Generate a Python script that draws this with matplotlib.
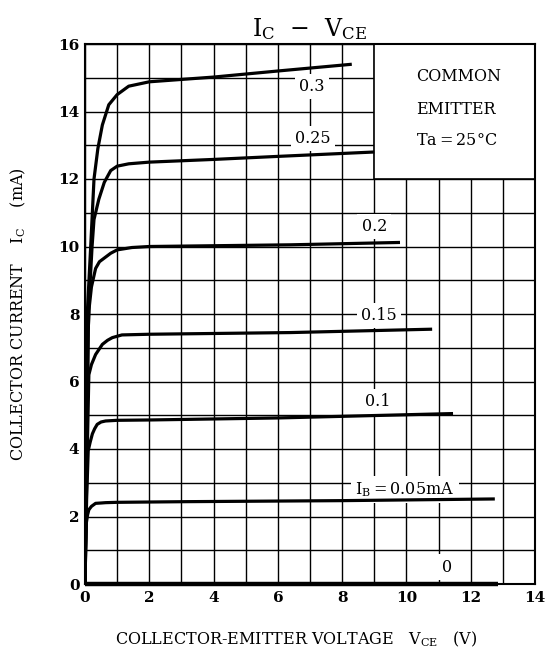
import matplotlib
matplotlib.use("Agg")
import matplotlib.pyplot as plt
from matplotlib.patches import Rectangle

plt.rcParams['font.family'] = ['DejaVu Serif']
plt.rcParams['mathtext.fontset'] = 'dejavuserif'

# curves, IB in mA
vce_030 = [0, 0.04, 0.07, 0.18, 0.28, 0.4, 0.54, 0.74, 1.0, 1.36, 2.0, 3.0, 4.0, 6.0, 8.3]
ic_030 = [0, 4.0, 8.0, 10.05, 12.0, 12.9, 13.6, 14.2, 14.5, 14.75, 14.88, 14.95, 15.02, 15.2, 15.4]

vce_025 = [0, 0.05, 0.1, 0.14, 0.22, 0.28, 0.43, 0.6, 0.8, 1.0, 1.36, 2.0, 4.0, 6.0, 9.0]
ic_025 = [0, 4.0, 7.5, 8.6, 10.0, 10.8, 11.4, 11.9, 12.25, 12.38, 12.45, 12.5, 12.58, 12.67, 12.8]

vce_020 = [0, 0.05, 0.1, 0.12, 0.2, 0.33, 0.45, 0.59, 0.8, 1.0, 1.46, 2.0, 6.4, 9.8]
ic_020 = [0, 4.0, 7.5, 8.1, 8.8, 9.35, 9.55, 9.65, 9.8, 9.9, 9.97, 10.0, 10.05, 10.12]

vce_015 = [0, 0.05, 0.12, 0.2, 0.33, 0.54, 0.7, 0.85, 1.15, 2.0, 6.4, 10.8]
ic_015 = [0, 3.0, 6.2, 6.5, 6.8, 7.1, 7.22, 7.3, 7.38, 7.4, 7.45, 7.55]

vce_010 = [0, 0.05, 0.1, 0.16, 0.23, 0.3, 0.38, 0.5, 0.64, 1.0, 2.0, 6.0, 11.45]
ic_010 = [0, 2.5, 3.95, 4.2, 4.45, 4.6, 4.73, 4.8, 4.83, 4.85, 4.86, 4.92, 5.05]

vce_005 = [0, 0.02, 0.04, 0.08, 0.12, 0.2, 0.33, 0.5, 0.64, 1.0, 3.2, 8.0, 12.75]
ic_005 = [0, 1.0, 1.8, 2.05, 2.2, 2.3, 2.39, 2.4, 2.41, 2.42, 2.44, 2.47, 2.52]

vce_000 = [0, 12.85]
ic_000 = [0, 0]

ib_labels = ['0.3', '0.25', '0.2', '0.15', '0.1', 'I$_\\mathrm{B}$$=$0.05mA', '0']
box_lines = ['COMMON', 'EMITTER', 'Ta$=$25°C']

fig = plt.figure(figsize=(5.47, 6.49), dpi=100)
ax = fig.add_axes([85 / 547, 1 - 584 / 649, 450 / 547, 540 / 649])

ax.set_xlim(0, 14)
ax.set_ylim(0, 16)
ax.set_xticks(range(0, 15, 2))
ax.set_yticks(range(0, 17, 2))
ax.set_xticks(range(15), minor=True)
ax.set_yticks(range(17), minor=True)
ax.grid(which='both', color='black', linewidth=1.0, zorder=1)
ax.tick_params(which='both', length=0)
ax.tick_params(axis='x', pad=5)
ax.tick_params(axis='y', pad=4)
for lab in ax.get_xticklabels() + ax.get_yticklabels():
    lab.set_fontweight('bold')
    lab.set_fontsize(11)
for s in ax.spines.values():
    s.set_linewidth(1.5)

# white box with the test conditions
ax.add_patch(Rectangle((9, 12), 5, 4, facecolor='white', edgecolor='black',
                       linewidth=1.2, zorder=2))

curves = [(vce_030, ic_030), (vce_025, ic_025), (vce_020, ic_020),
          (vce_015, ic_015), (vce_010, ic_010), (vce_005, ic_005)]
for v, i in curves:
    ax.plot(v, i, color='black', linewidth=2.3, zorder=4, solid_capstyle='butt')
ax.plot(vce_000, ic_000, color='black', linewidth=3.2, zorder=4, clip_on=False,
        solid_capstyle='butt')

label_pos = [(7.05, 14.75), (7.1, 13.2), (9.0, 10.6), (9.15, 7.95),
             (9.1, 5.4), (9.95, 2.8), (11.25, 0.5)]
for txt, (x, y) in zip(ib_labels, label_pos):
    ax.text(x, y, txt, ha='center', va='center', fontsize=11.5, zorder=3,
            bbox=dict(facecolor='white', edgecolor='none', pad=3))

for txt, y in zip(box_lines, [15.05, 14.05, 13.15]):
    ax.text(10.3, y, txt, ha='left', va='center', fontsize=11.5, zorder=3)

ax.set_title('I$_\\mathrm{C}$  $-$  V$_\\mathrm{CE}$', fontsize=17, pad=6)
ax.set_xlabel('COLLECTOR-EMITTER VOLTAGE   V$_\\mathrm{CE}$   (V)',
              fontsize=11.5)
ax.xaxis.set_label_coords(0.47, -0.085)
ax.set_ylabel('COLLECTOR CURRENT    I$_\\mathrm{C}$    (mA)',
              fontsize=11.5, labelpad=22)

fig.savefig('out.png', dpi=100)
